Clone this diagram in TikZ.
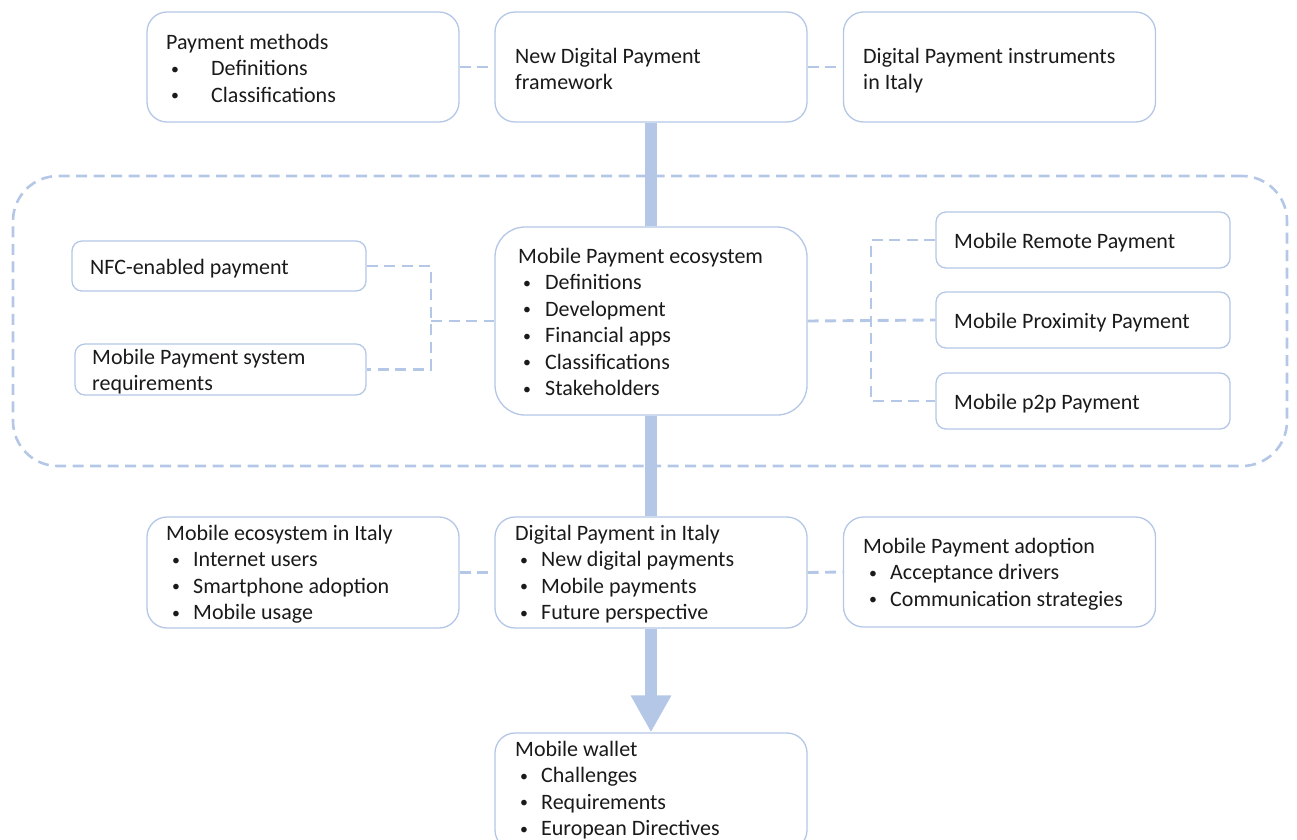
\documentclass[tikz,border=0pt]{standalone}
\usepackage{fontspec}
\setmainfont{Carlito}
\usetikzlibrary{arrows.meta}
\definecolor{edge}{HTML}{B4C7E7}
\definecolor{ink}{HTML}{1A1A1A}
% heading row spanning bullet and text columns
\newcommand\hdr[1]{\multicolumn{2}{@{}l@{}}{#1}}
% bulleted block: #1 bullet indent, #2 bullet column width, #3 rows
\newcommand\blist[3]{\begin{tabular}[t]{@{\hspace{#1}}p{#2}@{}l@{}}#3\end{tabular}}
\newcommand\plain[1]{\begin{tabular}[t]{@{}l@{}}#1\end{tabular}}
\newcommand\bul{\raisebox{1.5pt}{\scalebox{0.72}{\textbullet}}}
\tikzset{
  box/.style={draw=edge, line width=1.3pt, fill=white, inner sep=0pt},
  bigbox/.style={box, minimum width=312pt, minimum height=110pt, rounded corners=20pt},
  smallbox/.style={box, minimum width=294pt, minimum height=51pt, rounded corners=10pt},
  conn/.style={draw=edge, line width=2.9pt, dash pattern=on 11pt off 6.5pt},
  frame/.style={draw=edge, line width=2.6pt, dash pattern=on 11pt off 6.5pt,
    rounded corners=45pt, inner sep=0pt},
  bar/.style={draw=edge, line width=12pt},
  txt/.style={inner sep=0pt, anchor=base west, text=ink,
    font=\fontsize{22}{26.5}\selectfont}
}
\begin{document}
\begin{tikzpicture}[x=1pt,y=-1pt]
\useasboundingbox (0,0) rectangle (1297,839);
\clip (0,0) rectangle (1297,839);

% dashed group around the mobile payment ecosystem
\node[frame, minimum width=1274pt, minimum height=290pt] (grp) at (650,321) {};

% top row
\node[bigbox] (pm)  at (303,67) {};
\node[bigbox] (ndp) at (651,67) {};
\node[bigbox] (dpi) at (999.5,67) {};

% middle block
\node[smallbox, minimum height=50pt] (nfc) at (219,266) {};
\node[smallbox, minimum width=291pt] (req) at (220.5,369.5) {};
\node[box, minimum width=312pt, minimum height=188pt, rounded corners=30pt] (mpe) at (651,321) {};
\node[smallbox, minimum height=56pt] (remote) at (1083,240) {};
\node[smallbox, minimum height=56pt] (prox)   at (1083,320) {};
\node[smallbox, minimum height=56pt] (ptp)    at (1083,401) {};

% bottom row
\node[bigbox, minimum height=111pt] (mei)  at (303,572.5) {};
\node[bigbox, minimum height=111pt] (dpit) at (651,572.5) {};
\node[bigbox] (mpa) at (999.5,572) {};
\node[bigbox, minimum height=117pt] (mw) at (651,791.5) {};

% main flow
\draw[bar] (ndp.south) -- (mpe.north);
\draw[bar] (mpe.south) -- (dpit.north);
\draw[bar, -{Triangle[length=37pt,width=38pt]}] (dpit.south) -- (mw.north);

% dashed links
\draw[conn] (pm.east) -- (ndp.west);
\draw[conn] (ndp.east) -- (dpi.west);
\draw[conn] (mei.east) -- (dpit.west);
\draw[conn] (dpit.east) -- (mpa.west);

\coordinate (jl) at (431,321);
\coordinate (jr) at (871,320);
\draw[conn] (nfc.east) -| (jl) |- (req.east);
\draw[conn] (jl) -- (mpe.west);
\draw[conn] (remote.west) -| (jr) |- (ptp.west);
\draw[conn] (mpe.east) -- (prox.west);

% texts
\node[txt] (pmt) at (166,49) {\blist{5pt}{40pt}{\hdr{Payment methods}\\ \bul & Definitions\\ \bul & Classifications}};
\node[txt] (ndpt) at (515,63) {\plain{New Digital Payment\\ framework}};
\node[txt] (dpitx) at (863,63) {\plain{Digital Payment instruments\\ in Italy}};

\node[txt] (nfct) at (90,274) {\plain{NFC-enabled payment}};
\node[txt] (reqt) at (92,364) {\plain{Mobile Payment system\\ requirements}};
\node[txt] (mpet) at (518,263) {\blist{5pt}{22pt}{\hdr{Mobile Payment ecosystem}\\ \bul & Definitions\\ \bul & Development\\ \bul & Financial apps\\ \bul & Classifications\\ \bul & Stakeholders}};
\node[txt] (remt) at (954,248) {\plain{Mobile Remote Payment}};
\node[txt] (proxt) at (954,328) {\plain{Mobile Proximity Payment}};
\node[txt] (ptpt) at (954,409) {\plain{Mobile p2p Payment}};

\node[txt] (meit) at (166,540) {\blist{6pt}{21pt}{\hdr{Mobile ecosystem in Italy}\\ \bul & Internet users\\ \bul & Smartphone adoption\\ \bul & Mobile usage}};
\node[txt] (dpitt) at (515,540) {\blist{5pt}{21pt}{\hdr{Digital Payment in Italy}\\ \bul & New digital payments\\ \bul & Mobile payments\\ \bul & Future perspective}};
\node[txt] (mpat) at (863,553) {\blist{6pt}{21pt}{\hdr{Mobile Payment adoption}\\ \bul & Acceptance drivers\\ \bul & Communication strategies}};
\node[txt] (mwt) at (515,756) {\blist{5pt}{21pt}{\hdr{Mobile wallet}\\ \bul & Challenges\\ \bul & Requirements\\ \bul & European Directives}};
\end{tikzpicture}
\end{document}
